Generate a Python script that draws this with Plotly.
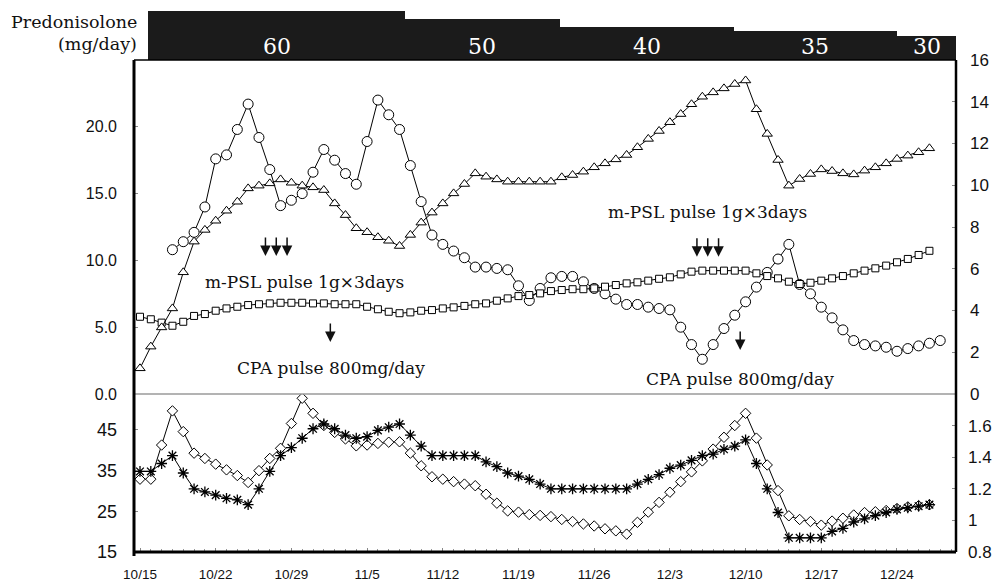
import plotly.graph_objects as go

# ---------------- data ----------------
tick_days = [0, 7, 14, 21, 28, 35, 42, 49, 56, 63, 70]
tick_labels = ["10/15", "10/22", "10/29", "11/5", "11/12", "11/19",
               "11/26", "12/3", "12/10", "12/17", "12/24"]

# upper panel, left axis (0-25)
circle_start = 3
circle_vals = [10.8, 11.4, 12.1, 14.0, 17.6, 17.9, 19.8, 21.7, 19.2, 16.8,
               14.1, 14.5, 15.0, 16.6, 18.3, 17.5, 16.5, 15.7, 18.9, 22.0,
               20.9, 19.8, 17.1, 14.4, 11.9, 11.2, 10.7, 10.2, 9.5, 9.5,
               9.4, 9.3, 8.1, 7.0, 7.9, 8.7, 8.8, 8.8, 8.4, 7.9,
               7.5, 7.1, 6.7, 6.7, 6.5, 6.4, 6.3, 5.0, 3.7, 2.6,
               3.7, 4.9, 5.9, 6.9, 8.0, 9.1, 10.1, 11.2, 8.2, 7.5,
               6.5, 5.7, 4.8, 4.0, 3.7, 3.6, 3.5, 3.2, 3.4, 3.6,
               3.8, 4.0]

# upper panel, right axis (0-16)
triangle_start = 0
triangle_vals = [1.23, 2.27, 3.19, 4.10, 5.83, 7.30, 7.86, 8.30, 8.78, 9.21,
                 9.85, 9.98, 10.09, 10.28, 10.12, 9.98, 9.90, 9.77, 9.13, 8.57,
                 7.94, 7.75, 7.51, 7.34, 7.09, 7.62, 8.21, 8.69, 9.13, 9.61,
                 10.06, 10.57, 10.41, 10.28, 10.17, 10.17, 10.17, 10.17, 10.17, 10.38,
                 10.49, 10.65, 10.86, 11.05, 11.24, 11.45, 11.82, 12.22, 12.60, 13.02,
                 13.41, 13.88, 14.24, 14.45, 14.64, 14.85, 15.02, 13.64, 12.46, 11.21,
                 9.98, 10.30, 10.54, 10.76, 10.68, 10.57, 10.52, 10.70, 10.86, 11.05,
                 11.26, 11.42, 11.58, 11.77]

square_start = 0
square_vals = [3.70, 3.58, 3.42, 3.27, 3.46, 3.74, 3.83, 3.99, 4.10, 4.18,
               4.26, 4.30, 4.34, 4.37, 4.37, 4.37, 4.34, 4.34, 4.30, 4.30,
               4.30, 4.18, 4.06, 3.94, 3.87, 3.91, 3.99, 4.02, 4.10, 4.15,
               4.22, 4.30, 4.34, 4.47, 4.58, 4.69, 4.74, 4.82, 4.93, 4.98,
               5.02, 5.02, 5.06, 5.14, 5.22, 5.30, 5.35, 5.43, 5.52, 5.59,
               5.73, 5.86, 5.91, 5.91, 5.91, 5.91, 5.91, 5.78, 5.65, 5.54,
               5.38, 5.27, 5.33, 5.43, 5.54, 5.65, 5.78, 5.91, 6.02, 6.15,
               6.31, 6.47, 6.66, 6.86]

# lower panel, left axis (15-55)
diamond_start = 0
diamond_vals = [32.9, 32.9, 41.3, 49.7, 44.6, 39.3, 38.0, 36.6, 35.2, 33.8,
                32.1, 35.0, 38.0, 40.5, 46.6, 52.8, 49.1, 46.1, 44.4, 42.8,
                41.1, 41.3, 41.7, 42.0, 42.1, 39.3, 36.2, 33.5, 32.9, 32.3,
                31.7, 31.3, 29.2, 27.0, 25.1, 24.8, 24.2, 24.0, 23.7, 23.0,
                22.5, 21.9, 21.4, 20.7, 20.2, 19.4, 22.3, 24.8, 27.2, 29.7,
                32.3, 34.7, 37.4, 40.3, 43.2, 46.1, 49.1, 43.0, 36.4, 30.1,
                23.9, 23.0, 22.5, 21.6, 22.6, 23.3, 24.1, 24.7, 24.9, 25.2,
                25.7, 26.1, 26.4, 26.6]

# lower panel, right axis (0.8-1.8)
asterisk_start = 0
asterisk_vals = [1.31, 1.31, 1.36, 1.41, 1.30, 1.20, 1.18, 1.16, 1.14, 1.13,
                 1.10, 1.20, 1.31, 1.41, 1.46, 1.52, 1.58, 1.61, 1.58, 1.54,
                 1.52, 1.53, 1.57, 1.59, 1.61, 1.54, 1.47, 1.41, 1.41, 1.41,
                 1.41, 1.41, 1.37, 1.34, 1.30, 1.28, 1.26, 1.23, 1.20, 1.20,
                 1.20, 1.20, 1.20, 1.20, 1.20, 1.20, 1.23, 1.26, 1.29, 1.33,
                 1.35, 1.38, 1.41, 1.42, 1.45, 1.47, 1.51, 1.36, 1.20, 1.05,
                 0.89, 0.89, 0.89, 0.89, 0.93, 0.95, 0.99, 1.01, 1.03, 1.05,
                 1.07, 1.08, 1.09, 1.10]

# Predonisolone dose steps
dose_mg = [60, 50, 40, 35, 30]
dose_change_days = [0.75, 24.5, 38.8, 54.9, 70.0, 75.6]

# treatment events (day index)
mpsl_days_1 = [11.6, 12.6, 13.6]
mpsl_days_2 = [51.5, 52.5, 53.5]
cpa_days = [17.6, 55.5]

# ---------------- layout constants ----------------
W, H = 993, 582
ML, MR, MT, MB = 134, 37, 8, 30
PH = H - MT - MB
PW = W - ML - MR


def fy(ypx):
    return (H - MB - ypx) / PH


UP_DOM = [fy(394), fy(60)]
LO_DOM = [0, fy(394)]
BAR_DOM = [fy(60), fy(11)]

SERIF = "DejaVu Serif, Liberation Serif, serif"
SANS = "Liberation Sans, Arial, sans-serif"


def days(start, vals):
    return list(range(start, start + len(vals)))


fig = go.Figure()

line_style = dict(color="black", width=1)

fig.add_trace(go.Scatter(
    x=days(square_start, square_vals), y=square_vals, yaxis="y2",
    mode="lines+markers", line=line_style,
    marker=dict(symbol="square", size=7, color="white",
                line=dict(color="black", width=1))))
fig.add_trace(go.Scatter(
    x=days(triangle_start, triangle_vals), y=triangle_vals, yaxis="y2",
    mode="lines+markers", line=line_style,
    marker=dict(symbol="triangle-up", size=9, color="white",
                line=dict(color="black", width=1))))
fig.add_trace(go.Scatter(
    x=days(circle_start, circle_vals), y=circle_vals, yaxis="y",
    mode="lines+markers", line=line_style,
    marker=dict(symbol="circle", size=10, color="white",
                line=dict(color="black", width=1))))

fig.add_trace(go.Scatter(
    x=days(asterisk_start, asterisk_vals), y=asterisk_vals, yaxis="y4",
    mode="lines+markers", line=line_style,
    marker=dict(symbol="asterisk-open", size=9,
                line=dict(color="black", width=1.3))))
fig.add_trace(go.Scatter(
    x=days(diamond_start, diamond_vals), y=diamond_vals, yaxis="y3",
    mode="lines+markers", line=line_style,
    marker=dict(symbol="diamond", size=8, color="white",
                line=dict(color="black", width=1))))

# dose bar
bar_x = [(dose_change_days[i] + dose_change_days[i + 1]) / 2 for i in range(len(dose_mg))]
bar_w = [dose_change_days[i + 1] - dose_change_days[i] for i in range(len(dose_mg))]
fig.add_trace(go.Bar(x=bar_x, y=dose_mg, width=bar_w, yaxis="y5",
                     marker=dict(color="#1b1b1b", line=dict(width=0))))

annotations = []
for bx, d in zip(bar_x, dose_mg):
    annotations.append(dict(x=bx, y=17, xref="x", yref="y5", text=str(d),
                            showarrow=False, yanchor="middle",
                            font=dict(family=SERIF, size=22, color="white")))

annotations += [
    dict(x=(139 - ML) / PW, y=fy(21.7), xref="paper", yref="paper",
         text="Predonisolone", showarrow=False, xanchor="right", yanchor="middle",
         font=dict(family=SERIF, size=17.5, color="#111")),
    dict(x=(139 - ML) / PW, y=fy(44), xref="paper", yref="paper",
         text="(mg/day)", showarrow=False, xanchor="right", yanchor="middle",
         font=dict(family=SERIF, size=17.5, color="#111")),
    dict(x=15.2, y=8.4, xref="x", yref="y", text="m-PSL pulse 1g×3days",
         showarrow=False, font=dict(family=SERIF, size=17, color="#111")),
    dict(x=52.5, y=13.65, xref="x", yref="y", text="m-PSL pulse 1g×3days",
         showarrow=False, font=dict(family=SERIF, size=17, color="#111")),
    dict(x=17.7, y=1.92, xref="x", yref="y", text="CPA pulse 800mg/day",
         showarrow=False, font=dict(family=SERIF, size=17, color="#111")),
    dict(x=55.5, y=1.10, xref="x", yref="y", text="CPA pulse 800mg/day",
         showarrow=False, font=dict(family=SERIF, size=17, color="#111")),
]

arrow_common = dict(xref="x", yref="y", showarrow=True, arrowhead=2,
                    arrowsize=1.4, arrowwidth=1.5, arrowcolor="#111",
                    ax=0, ay=-20, text="")
for d in mpsl_days_1:
    annotations.append(dict(x=d, y=10.33, **arrow_common))
for d in mpsl_days_2:
    annotations.append(dict(x=d, y=10.28, **arrow_common))
annotations.append(dict(x=cpa_days[0], y=3.9, **arrow_common))
annotations.append(dict(x=cpa_days[1], y=3.3, **arrow_common))

shapes = [
    dict(type="line", xref="paper", yref="paper", x0=0, x1=1, y0=fy(394), y1=fy(394),
         line=dict(color="#9a9a9a", width=1.5)),
    dict(type="line", xref="paper", yref="paper", x0=0, x1=1, y0=fy(60), y1=fy(60),
         line=dict(color="black", width=1.5)),
    dict(type="line", xref="paper", yref="paper", x0=0, x1=0, y0=fy(556), y1=fy(60),
         line=dict(color="black", width=3)),
    dict(type="line", xref="paper", yref="paper", x0=1, x1=1, y0=0, y1=fy(60),
         line=dict(color="black", width=2.5)),
    dict(type="line", xref="paper", yref="paper", x0=0, x1=1, y0=0, y1=0,
         line=dict(color="black", width=3)),
]

tick_common = dict(ticks="inside", ticklen=4, tickcolor="#888", showgrid=False,
                   zeroline=False, showline=False, automargin=False)

fig.update_layout(
    template="none",
    width=W, height=H,
    autosize=False,
    margin=dict(l=ML, r=MR, t=MT, b=MB, autoexpand=False),
    paper_bgcolor="white", plot_bgcolor="white",
    showlegend=False,
    bargap=0,
    xaxis=dict(anchor="y3", range=[-0.555, 75.457], tickvals=tick_days,
               ticktext=tick_labels, ticklabelstandoff=12,
               tickfont=dict(family=SANS, size=13.5, color="#111"),
               minor=dict(dtick=1, tick0=0, ticks="inside", ticklen=3, tickcolor="#999"),
               **tick_common),
    yaxis=dict(domain=UP_DOM, range=[0, 25], anchor="x",
               tickvals=[0, 5, 10, 15, 20],
               ticktext=["0.0", "5.0", "10.0", "15.0", "20.0"],
               ticklabelstandoff=16,
               tickfont=dict(family=SANS, size=16, color="#111"),
               **tick_common),
    yaxis2=dict(overlaying="y", side="right", range=[0, 16], anchor="x",
                tickvals=[0, 2, 4, 6, 8, 10, 12, 14, 16],
                ticklabelstandoff=13,
                tickfont=dict(family=SANS, size=17, color="#111"),
                **tick_common),
    yaxis3=dict(domain=LO_DOM, range=[15, 53.85], anchor="x",
                tickvals=[15, 25, 35, 45], ticklabelstandoff=16,
                tickfont=dict(family=SANS, size=18, color="#111"),
                **tick_common),
    yaxis4=dict(overlaying="y3", side="right", range=[0.8, 1.8], anchor="x",
                tickvals=[0.8, 1.0, 1.2, 1.4, 1.6],
                ticktext=["0.8", "1", "1.2", "1.4", "1.6"],
                ticklabelstandoff=11,
                tickfont=dict(family=SANS, size=17, color="#111"),
                **tick_common),
    yaxis5=dict(domain=BAR_DOM, range=[0, 60], anchor="x", visible=False,
                fixedrange=True),
    annotations=annotations,
    shapes=shapes,
)

fig.write_html("out.html", config={"displayModeBar": False},
               post_script="document.body.style.margin='0';document.body.style.overflow='hidden';")
